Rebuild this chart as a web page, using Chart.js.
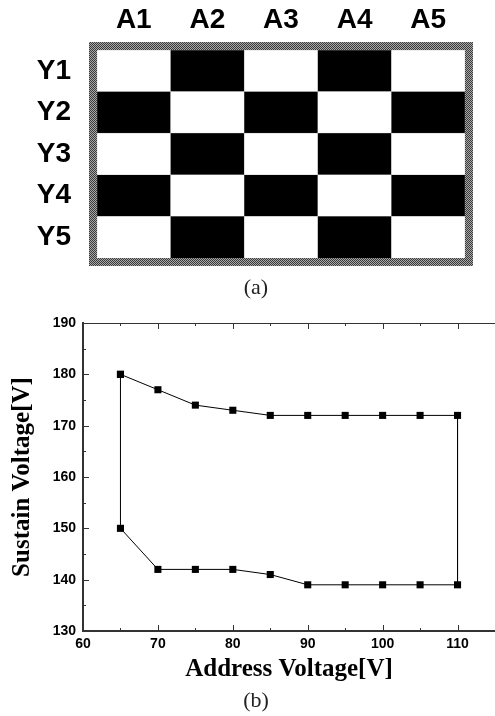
<!DOCTYPE html>
<html lang="en">
<head>
    <meta charset="UTF-8">
    <title>Checker pattern and sustain voltage margin</title>
    <script src="https://cdn.jsdelivr.net/npm/chart.js"></script>
    <style>
        * {
            box-sizing: border-box;
            margin: 0;
            padding: 0;
        }
        body {
            background: #fff;
            width: 495px;
            height: 716px;
            position: relative;
            overflow: hidden;
        }
        .box {
            position: absolute;
            left: 0;
            width: 495px;
        }
        #boxA { top: 0; height: 300px; }
        #boxB { top: 300px; height: 416px; }
        .cap {
            position: absolute;
            width: 100px;
            text-align: center;
            font-family: 'Liberation Serif', serif;
            font-size: 22px;
            line-height: 26px;
            color: #222;
        }
    </style>
</head>
<body>
    <div class="box" id="boxA"><canvas id="checkChart"></canvas></div>
    <div class="cap" style="left:206px; top:274px;">(a)</div>
    <div class="box" id="boxB"><canvas id="marginChart"></canvas></div>
    <div class="cap" style="left:206px; top:687px;">(b)</div>

    <script>
        // (a) checker pattern: 1 = black cell, 0 = white cell
        const columns = ['A1', 'A2', 'A3', 'A4', 'A5'];
        const rows = ['Y1', 'Y2', 'Y3', 'Y4', 'Y5'];
        const rowY1 = [0, 1, 0, 1, 0];
        const rowY2 = [1, 0, 1, 0, 1];
        const rowY3 = [0, 1, 0, 1, 0];
        const rowY4 = [1, 0, 1, 0, 1];
        const rowY5 = [0, 1, 0, 1, 0];
        const cells = [rowY1, rowY2, rowY3, rowY4, rowY5];

        // (b) operating margin
        const addressV = [65, 70, 75, 80, 85, 90, 95, 100, 105, 110];
        const upperSustain = [180, 177, 174, 173, 172, 172, 172, 172, 172, 172];
        const lowerSustain = [150, 142, 142, 142, 141, 139, 139, 139, 139, 139];

        Chart.defaults.animation = false;
        Chart.defaults.color = '#000';

        // gray dotted frame round the checker board
        const pc = document.createElement('canvas');
        pc.width = 2; pc.height = 2;
        const pctx = pc.getContext('2d');
        pctx.fillStyle = '#a8a8a8';
        pctx.fillRect(0, 0, 2, 2);
        pctx.fillStyle = '#3a3a3a';
        pctx.fillRect(0, 0, 1, 1);
        pctx.fillRect(1, 1, 1, 1);

        const framePlugin = {
            id: 'frame',
            afterDraw(chart) {
                const { ctx, chartArea: a } = chart;
                const w = 8;
                ctx.save();
                ctx.fillStyle = ctx.createPattern(pc, 'repeat');
                ctx.beginPath();
                ctx.rect(a.left - w, a.top - w, a.right - a.left + 2 * w, a.bottom - a.top + 2 * w);
                ctx.rect(a.left, a.top, a.right - a.left, a.bottom - a.top);
                ctx.fill('evenodd');
                ctx.restore();
            }
        };

        // stacked bottom-up, so Y5 first
        const checkSets = [];
        for (let i = rows.length - 1; i >= 0; i--) {
            checkSets.push({
                label: rows[i],
                data: columns.map(() => 1),
                backgroundColor: cells[i].map(c => c ? '#000' : '#fff'),
                borderColor: '#a0a0a0',
                borderWidth: 0.5,
                categoryPercentage: 1,
                barPercentage: 1
            });
        }

        const labelFont = { family: "'Liberation Sans', Arial, sans-serif", size: 28, weight: 'bold' };

        new Chart(document.getElementById('checkChart'), {
            type: 'bar',
            data: { labels: columns, datasets: checkSets },
            plugins: [framePlugin],
            options: {
                responsive: true,
                maintainAspectRatio: false,
                layout: { padding: { left: 0, top: 0, right: 30, bottom: 42 }, autoPadding: false },
                plugins: { legend: { display: false }, tooltip: { enabled: false } },
                scales: {
                    x: {
                        position: 'top',
                        stacked: true,
                        grid: { display: false },
                        border: { display: false },
                        ticks: { font: labelFont, color: '#000', padding: 5 },
                        afterFit: s => { s.height = 50; }
                    },
                    y: {
                        stacked: true,
                        min: 0,
                        max: 5,
                        grid: { display: false },
                        border: { display: false },
                        afterBuildTicks: s => {
                            s.ticks = [4.5, 3.5, 2.5, 1.5, 0.5].map(v => ({ value: v }));
                        },
                        ticks: {
                            font: labelFont,
                            color: '#000',
                            padding: 18,
                            callback: v => rows[rows.length - 1 - Math.floor(v)]
                        },
                        afterFit: s => { s.width = 97; }
                    }
                }
            }
        });

        // (b) closed loop: upper branch left to right, lower branch back
        const loop = [];
        addressV.forEach((x, i) => loop.push({ x: x, y: upperSustain[i] }));
        for (let i = addressV.length - 1; i >= 0; i--) {
            loop.push({ x: addressV[i], y: lowerSustain[i] });
        }
        loop.push({ x: addressV[0], y: upperSustain[0] });

        // inward tick marks and the top frame line
        const innerTicks = {
            id: 'innerTicks',
            afterDatasetsDraw(chart) {
                const { ctx, chartArea: a, scales: { x, y } } = chart;
                ctx.save();
                ctx.strokeStyle = '#333';
                ctx.lineWidth = 1;
                ctx.beginPath();
                ctx.moveTo(a.left, a.top + 0.5);
                ctx.lineTo(a.right, a.top + 0.5);
                x.ticks.forEach(t => {
                    [t.value, t.value + 5].forEach((v, k) => {
                        if (v > x.max) return;
                        const px = Math.round(x.getPixelForValue(v)) + 0.5;
                        const len = k === 0 ? 6 : 3;
                        ctx.moveTo(px, a.bottom);
                        ctx.lineTo(px, a.bottom - len);
                        ctx.moveTo(px, a.top);
                        ctx.lineTo(px, a.top + len);
                    });
                });
                y.ticks.forEach(t => {
                    [t.value, t.value + 5].forEach((v, k) => {
                        if (v > y.max) return;
                        const py = Math.round(y.getPixelForValue(v)) + 0.5;
                        const len = k === 0 ? 6 : 3;
                        ctx.moveTo(a.left, py);
                        ctx.lineTo(a.left + len, py);
                    });
                });
                ctx.stroke();
                ctx.restore();
            }
        };

        const tickFont = { family: "'Liberation Sans', Arial, sans-serif", size: 14, weight: 'bold' };
        const titleFont = { family: "'Liberation Serif', 'Times New Roman', serif", size: 25, weight: 'bold' };

        new Chart(document.getElementById('marginChart'), {
            type: 'scatter',
            data: {
                datasets: [{
                    label: 'Margin',
                    data: loop,
                    showLine: true,
                    borderColor: '#000',
                    borderWidth: 1,
                    pointStyle: 'rect',
                    pointRadius: 5,
                    pointBackgroundColor: '#000',
                    pointBorderWidth: 0,
                    tension: 0
                }]
            },
            plugins: [innerTicks],
            options: {
                responsive: true,
                maintainAspectRatio: false,
                layout: { padding: { left: 0, top: 23, right: 0, bottom: 25 }, autoPadding: false },
                plugins: { legend: { display: false }, tooltip: { enabled: false } },
                scales: {
                    x: {
                        type: 'linear',
                        min: 60,
                        max: 115,
                        grid: { drawOnChartArea: false, drawTicks: false },
                        border: { color: '#333', width: 2 },
                        ticks: { stepSize: 10, includeBounds: false, font: tickFont, color: '#000', padding: 5 },
                        title: {
                            display: true,
                            text: 'Address Voltage[V]',
                            font: titleFont,
                            color: '#000',
                            padding: { top: 0, bottom: 6 }
                        },
                        afterFit: s => { s.height = 60; }
                    },
                    y: {
                        min: 130,
                        max: 190,
                        grid: { drawOnChartArea: false, drawTicks: false },
                        border: { color: '#333', width: 2 },
                        ticks: { stepSize: 10, font: tickFont, color: '#000', padding: 7 },
                        title: {
                            display: true,
                            text: 'Sustain Voltage[V]',
                            font: titleFont,
                            color: '#000',
                            padding: { top: 8, bottom: 0 }
                        },
                        afterFit: s => { s.width = 83; }
                    }
                }
            }
        });
    </script>
</body>
</html>
